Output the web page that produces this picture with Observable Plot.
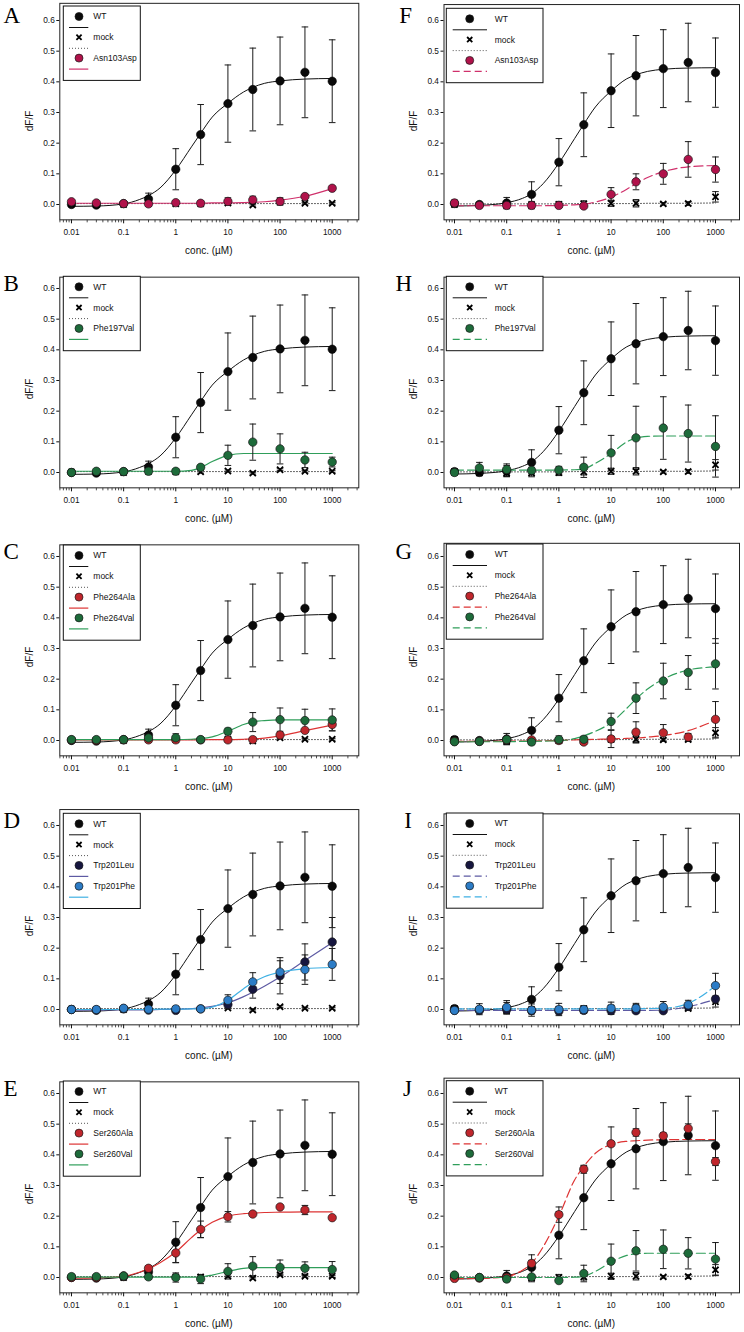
<!DOCTYPE html>
<html><head><meta charset="utf-8">
<script src="https://cdn.jsdelivr.net/npm/d3@7"></script>
<script src="https://cdn.jsdelivr.net/npm/@observablehq/plot@0.6"></script>
<style>
body{margin:0;background:#fff;}
#fig{position:relative;width:744px;height:1332px;overflow:hidden;background:#fff;}
.panel{position:absolute;width:372px;height:268px;}
</style></head><body><div id="fig"></div>
<script>
// ---------- data ----------
const conc = [0.01, 0.03, 0.1, 0.3, 1, 3, 10, 30, 100, 300, 1000];
const fitConc = [0.01, 0.03, 0.1, 0.2, 0.3, 0.5, 1, 2, 3, 5, 10, 20, 30, 50, 100, 300, 1000];
const yTicks = [0, 0.1, 0.2, 0.3, 0.4, 0.5, 0.6];
const xTicks = [0.01, 0.1, 1, 10, 100, 1000];
const xTickLabels = ["0.01", "0.1", "1", "10", "100", "1000"];
const panelLetters = ["A", "B", "C", "D", "E", "F", "H", "G", "I", "J"];
const xLabel = "conc. (\u00b5M)";
const yLabel = "dF/F";

// left column (A-E)
const wtL_mean = [0.0, -0.002, 0.003, 0.018, 0.115, 0.228, 0.329, 0.375, 0.403, 0.431, 0.402];
const wtL_err  = [0.004, 0.005, 0.006, 0.019, 0.067, 0.098, 0.126, 0.135, 0.143, 0.148, 0.135];
const wtL_fit  = [-0.006, -0.005, 0.002, 0.016, 0.029, 0.054, 0.113, 0.188, 0.232, 0.285, 0.330, 0.367, 0.382, 0.395, 0.403, 0.409, 0.411];
const mockL_mean = [0.002, 0.0, 0.0, 0.003, 0.002, 0.002, 0.005, -0.002, 0.009, 0.004, 0.004];
const mockL_err  = [0.003, 0.003, 0.004, 0.003, 0.004, 0.004, 0.003, 0.003, 0.003, 0.003, 0.003];
const mockL_fit  = [0.003, 0.003, 0.003, 0.003, 0.003, 0.003, 0.003, 0.003, 0.003, 0.003, 0.003, 0.003, 0.003, 0.003, 0.003, 0.003, 0.003];

// right column (F-J)
const wtR_mean = [0.003, 0.0, 0.005, 0.033, 0.138, 0.26, 0.371, 0.42, 0.443, 0.463, 0.43];
const wtR_err  = [0.01, 0.006, 0.018, 0.041, 0.077, 0.104, 0.12, 0.131, 0.127, 0.128, 0.113];
const wtR_fit  = [-0.005, -0.003, 0.006, 0.02, 0.035, 0.068, 0.135, 0.215, 0.262, 0.318, 0.37, 0.41, 0.423, 0.434, 0.441, 0.445, 0.446];
const mockR_mean = [0.0, -0.002, -0.002, -0.002, 0.0, 0.002, 0.004, 0.004, 0.002, 0.003, 0.025];
const mockR_err  = [0.005, 0.005, 0.012, 0.012, 0.01, 0.01, 0.01, 0.012, 0.004, 0.006, 0.017];
const mockR_fit  = [0.002, 0.002, 0.002, 0.002, 0.002, 0.002, 0.002, 0.003, 0.003, 0.003, 0.003, 0.003, 0.003, 0.004, 0.004, 0.004, 0.005];

// A: Asn103Asp (solid)
const asnA_mean = [0.009, 0.005, 0.003, 0.002, 0.006, 0.004, 0.01, 0.015, 0.01, 0.026, 0.053];
const asnA_err  = [0.004, 0.004, 0.004, 0.003, 0.006, 0.003, 0.012, 0.012, 0.012, 0.005, 0.004];
const asnA_fit  = [0.004, 0.004, 0.004, 0.004, 0.004, 0.004, 0.004, 0.004, 0.004, 0.005, 0.005, 0.006, 0.007, 0.009, 0.014, 0.027, 0.052];
// F: Asn103Asp (dashed)
const asnF_mean = [0.005, -0.003, -0.003, -0.003, -0.003, -0.005, 0.033, 0.074, 0.1, 0.147, 0.114];
const asnF_err  = [0.01, 0.005, 0.006, 0.01, 0.006, 0.005, 0.022, 0.026, 0.034, 0.058, 0.041];
const asnF_fit  = [-0.004, -0.004, -0.004, -0.004, -0.004, -0.004, -0.003, -0.001, 0.001, 0.008, 0.024, 0.05, 0.068, 0.088, 0.107, 0.123, 0.127];
// B: Phe197Val
const f197B_mean = [0.0, 0.004, 0.003, 0.004, 0.004, 0.017, 0.056, 0.099, 0.077, 0.041, 0.034];
const f197B_err  = [0.003, 0.003, 0.003, 0.003, 0.003, 0.006, 0.033, 0.059, 0.049, 0.025, 0.016];
const f197B_fit  = [0.004, 0.004, 0.004, 0.004, 0.004, 0.004, 0.004, 0.007, 0.016, 0.036, 0.056, 0.062, 0.062, 0.062, 0.062, 0.062, 0.062];
// H: Phe197Val
const f197H_mean = [0.0, 0.015, 0.01, 0.007, 0.008, 0.017, 0.064, 0.113, 0.145, 0.127, 0.085];
const f197H_err  = [0.004, 0.018, 0.018, 0.01, 0.012, 0.033, 0.057, 0.103, 0.102, 0.093, 0.1];
const f197H_fit  = [0.008, 0.008, 0.008, 0.008, 0.008, 0.008, 0.008, 0.009, 0.012, 0.03, 0.062, 0.1, 0.112, 0.118, 0.119, 0.119, 0.119];
// C: Phe264Ala, Phe264Val
const f264aC_mean = [0.002, 0.001, 0.002, 0.002, 0.002, 0.002, 0.002, 0.003, 0.018, 0.033, 0.052];
const f264aC_err  = [0.003, 0.003, 0.003, 0.003, 0.003, 0.003, 0.007, 0.005, 0.005, 0.004, 0.02];
const f264aC_fit  = [0.002, 0.002, 0.002, 0.002, 0.002, 0.002, 0.002, 0.002, 0.002, 0.003, 0.003, 0.004, 0.005, 0.008, 0.015, 0.032, 0.05];
const f264vC_mean = [0.003, 0.003, 0.003, 0.008, 0.009, 0.003, 0.03, 0.06, 0.068, 0.065, 0.067];
const f264vC_err  = [0.003, 0.003, 0.003, 0.005, 0.013, 0.003, 0.01, 0.031, 0.038, 0.037, 0.036];
const f264vC_fit  = [0.003, 0.003, 0.003, 0.003, 0.003, 0.003, 0.003, 0.004, 0.006, 0.012, 0.03, 0.052, 0.061, 0.065, 0.067, 0.067, 0.067];
// G: Phe264Ala, Phe264Val
const f264aG_mean = [-0.003, -0.003, 0.002, 0.002, 0.0, -0.005, 0.005, 0.027, 0.025, 0.011, 0.069];
const f264aG_err  = [0.004, 0.004, 0.004, 0.006, 0.005, 0.008, 0.028, 0.034, 0.027, 0.012, 0.058];
const f264aG_fit  = [-0.003, -0.003, -0.002, -0.002, -0.002, -0.001, 0.0, 0.002, 0.003, 0.004, 0.005, 0.007, 0.008, 0.011, 0.016, 0.032, 0.066];
const f264vG_mean = [-0.004, -0.003, 0.003, -0.005, 0.003, 0.004, 0.062, 0.138, 0.194, 0.222, 0.25];
const f264vG_err  = [0.004, 0.005, 0.008, 0.006, 0.012, 0.01, 0.027, 0.05, 0.058, 0.055, 0.082];
const f264vG_fit  = [-0.004, -0.004, -0.004, -0.003, -0.003, -0.002, -0.001, 0.006, 0.015, 0.03, 0.058, 0.105, 0.135, 0.168, 0.2, 0.23, 0.24];
// D: Trp201Leu, Trp201Phe
const w201lD_mean = [0.0, -0.002, 0.002, -0.002, -0.003, 0.002, 0.016, 0.066, 0.11, 0.155, 0.22];
const w201lD_err  = [0.004, 0.004, 0.004, 0.004, 0.004, 0.004, 0.01, 0.029, 0.059, 0.059, 0.08];
const w201lD_fit  = [-0.002, -0.002, -0.001, -0.001, -0.001, 0.0, 0.001, 0.003, 0.005, 0.01, 0.022, 0.042, 0.056, 0.076, 0.106, 0.16, 0.218];
const w201fD_mean = [0.0, 0.0, 0.004, 0.001, 0.002, 0.002, 0.03, 0.09, 0.122, 0.13, 0.147];
const w201fD_err  = [0.003, 0.003, 0.003, 0.003, 0.003, 0.003, 0.018, 0.03, 0.037, 0.048, 0.052];
const w201fD_fit  = [0.0, 0.0, 0.0, 0.0, 0.0, 0.001, 0.001, 0.002, 0.003, 0.008, 0.03, 0.068, 0.088, 0.107, 0.122, 0.133, 0.137];
// I: Trp201Leu, Trp201Phe
const w201lI_mean = [-0.003, -0.003, 0.0, -0.004, -0.005, -0.003, -0.004, -0.004, -0.004, 0.01, 0.034];
const w201lI_err  = [0.004, 0.005, 0.008, 0.01, 0.01, 0.01, 0.01, 0.006, 0.006, 0.012, 0.01];
const w201lI_fit  = [-0.003, -0.003, -0.003, -0.003, -0.003, -0.003, -0.003, -0.003, -0.003, -0.003, -0.003, -0.003, -0.003, -0.003, -0.002, 0.009, 0.033];
const w201fI_mean = [-0.003, 0.001, 0.007, -0.002, 0.0, 0.0, 0.004, 0.004, 0.008, 0.015, 0.078];
const w201fI_err  = [0.005, 0.018, 0.022, 0.02, 0.02, 0.012, 0.02, 0.016, 0.018, 0.015, 0.04];
const w201fI_fit  = [0.002, 0.002, 0.002, 0.002, 0.002, 0.002, 0.002, 0.002, 0.002, 0.002, 0.002, 0.002, 0.002, 0.003, 0.004, 0.02, 0.077];
// E: Ser260Ala, Ser260Val
const s260aE_mean = [0.0, 0.0, 0.005, 0.03, 0.08, 0.157, 0.198, 0.207, 0.23, 0.22, 0.195];
const s260aE_err  = [0.003, 0.003, 0.003, 0.008, 0.031, 0.027, 0.017, 0.004, 0.005, 0.015, 0.004];
const s260aE_fit  = [-0.002, -0.001, 0.004, 0.017, 0.028, 0.048, 0.083, 0.13, 0.155, 0.18, 0.2, 0.208, 0.21, 0.212, 0.213, 0.214, 0.214];
const s260vE_mean = [0.003, 0.003, 0.005, 0.002, 0.0, -0.005, 0.02, 0.037, 0.033, 0.03, 0.026];
const s260vE_err  = [0.003, 0.003, 0.005, 0.003, 0.015, 0.015, 0.025, 0.031, 0.024, 0.021, 0.026];
const s260vE_fit  = [0.001, 0.001, 0.001, 0.001, 0.001, 0.001, 0.001, 0.001, 0.002, 0.008, 0.02, 0.03, 0.032, 0.032, 0.032, 0.032, 0.032];
// J: Ser260Ala, Ser260Val
const s260aJ_mean = [-0.003, -0.002, 0.0, 0.046, 0.205, 0.353, 0.436, 0.473, 0.462, 0.486, 0.378];
const s260aJ_err  = [0.005, 0.004, 0.005, 0.01, 0.025, 0.013, 0.008, 0.012, 0.01, 0.015, 0.013];
const s260aJ_fit  = [-0.004, -0.003, 0.003, 0.024, 0.046, 0.1, 0.2, 0.318, 0.362, 0.405, 0.434, 0.444, 0.446, 0.448, 0.449, 0.45, 0.45];
const s260vJ_mean = [0.008, 0.0, -0.005, 0.002, -0.01, 0.013, 0.053, 0.087, 0.092, 0.079, 0.06];
const s260vJ_err  = [0.004, 0.004, 0.005, 0.005, 0.006, 0.027, 0.056, 0.066, 0.063, 0.051, 0.054];
const s260vJ_fit  = [0.0, 0.0, 0.0, 0.0, 0.0, 0.0, 0.0, 0.001, 0.004, 0.02, 0.05, 0.072, 0.077, 0.079, 0.079, 0.079, 0.079];

// colours: [marker fill, fit line]
const seriesColors = {
  "Asn103Asp": ["#b0124a", "#d0306b"],
  "Phe197Val": ["#1d6b3a", "#2f9e5a"],
  "Phe264Ala": ["#c0262c", "#dd3333"],
  "Phe264Val": ["#1d6b3a", "#2f9e5a"],
  "Trp201Leu": ["#16163f", "#5d5aa3"],
  "Trp201Phe": ["#2c7cc6", "#3fb0e3"],
  "Ser260Ala": ["#c0262c", "#dd3333"],
  "Ser260Val": ["#1d6b3a", "#2f9e5a"]
};

// ---------- panel table ----------
const panels = [
  {letter: panelLetters[0], col: 0, row: 0, yTop: 0.656, legTop: 6,   muts: [["Asn103Asp", asnA_mean, asnA_err, asnA_fit]]},
  {letter: panelLetters[1], col: 0, row: 1, yTop: 0.637, legTop: 8.3, muts: [["Phe197Val", f197B_mean, f197B_err, f197B_fit]]},
  {letter: panelLetters[2], col: 0, row: 2, yTop: 0.638, legTop: 9,   muts: [["Phe264Ala", f264aC_mean, f264aC_err, f264aC_fit], ["Phe264Val", f264vC_mean, f264vC_err, f264vC_fit]]},
  {letter: panelLetters[3], col: 0, row: 3, yTop: 0.652, legTop: 8.3, muts: [["Trp201Leu", w201lD_mean, w201lD_err, w201lD_fit], ["Trp201Phe", w201fD_mean, w201fD_err, w201fD_fit]]},
  {letter: panelLetters[4], col: 0, row: 4, yTop: 0.638, legTop: 8,   muts: [["Ser260Ala", s260aE_mean, s260aE_err, s260aE_fit], ["Ser260Val", s260vE_mean, s260vE_err, s260vE_fit]]},
  {letter: panelLetters[5], col: 1, row: 0, yTop: 0.652, legTop: 8.3, muts: [["Asn103Asp", asnF_mean, asnF_err, asnF_fit]]},
  {letter: panelLetters[6], col: 1, row: 1, yTop: 0.637, legTop: 8.3, muts: [["Phe197Val", f197H_mean, f197H_err, f197H_fit]]},
  {letter: panelLetters[7], col: 1, row: 2, yTop: 0.643, legTop: 8,   muts: [["Phe264Ala", f264aG_mean, f264aG_err, f264aG_fit], ["Phe264Val", f264vG_mean, f264vG_err, f264vG_fit]]},
  {letter: panelLetters[8], col: 1, row: 3, yTop: 0.638, legTop: 8,   muts: [["Trp201Leu", w201lI_mean, w201lI_err, w201lI_fit], ["Trp201Phe", w201fI_mean, w201fI_err, w201fI_fit]]},
  {letter: panelLetters[9], col: 1, row: 4, yTop: 0.65,  legTop: 7.7, muts: [["Ser260Ala", s260aJ_mean, s260aJ_err, s260aJ_fit], ["Ser260Val", s260vJ_mean, s260vJ_err, s260vJ_fit]]}
];

// ---------- layout ----------
const rowTops = [0, 267.7, 536, 805, 1073];
const PX_PER_UNIT = 306.67, ZERO_Y = 204, W = 372, H = 268, Y_BOTTOM = -0.05;
const colGeom = [
  {mL: 59.3, mR: 13.7, xDom: [Math.pow(10, -2.224), Math.pow(10, 3.51)],
   boxX: 63.3, boxW: 77, mkX: 79, lnX1: 69, lnX2: 88.3, txX: 93.3, letterX: 3.5, letterAnchor: "start", dashed: false},
  {mL: 71.5, mR: 5, xDom: [Math.pow(10, -2.201), Math.pow(10, 3.46)],
   boxX: 74.3, boxW: 96.7, mkX: 97.7, lnX1: 80.7, lnX2: 115, txX: 122.7, letterX: 40, letterAnchor: "end", dashed: true}
];
const FONT = "'Liberation Sans', Arial, Helvetica, sans-serif";
const ERR = "#1a1a1a";
const capSym = {draw(ctx) { ctx.moveTo(-3.3, 0); ctx.lineTo(3.3, 0); }};
const minorSym = {draw(ctx) { ctx.moveTo(0, 0); ctx.lineTo(0, 2.5); }};

function rows(xs, ys, es) {
  return xs.map((x, i) => ({x, y: ys[i], lo: es ? ys[i] - es[i] : null, hi: es ? ys[i] + es[i] : null}));
}

const fig = document.getElementById("fig");

for (const p of panels) {
  const g = colGeom[p.col];
  const side = p.col === 0 ? {wm: wtL_mean, we: wtL_err, wf: wtL_fit, mm: mockL_mean, me: mockL_err, mf: mockL_fit}
                           : {wm: wtR_mean, we: wtR_err, wf: wtR_fit, mm: mockR_mean, me: mockR_err, mf: mockR_fit};
  const mT = ZERO_Y - p.yTop * PX_PER_UNIT;
  const mB = H - (ZERO_Y - Y_BOTTOM * PX_PER_UNIT);
  const minor = [];
  for (const d of [0.001, 0.01, 0.1, 1, 10, 100, 1000]) for (let k = 2; k <= 9; k++) {
    const v = d * k; if (v >= g.xDom[0] && v <= g.xDom[1]) minor.push(v);
  }
  const wtRows = rows(conc, side.wm, side.we);
  const mockRows = rows(conc, side.mm, side.me);
  const dash = g.dashed ? "9,4" : null;

  const marks = [
    Plot.line(rows(fitConc, side.mf), {x: "x", y: "y", stroke: "#555", strokeWidth: 1, strokeDasharray: "1,2"}),
    Plot.line(rows(fitConc, side.wf), {x: "x", y: "y", stroke: "#111", strokeWidth: 1, curve: "monotone-x"})
  ];
  for (const [name, m, e, f] of p.muts) {
    marks.push(Plot.line(rows(fitConc, f), {x: "x", y: "y", stroke: seriesColors[name][1], strokeWidth: 1.2, strokeDasharray: dash, curve: "monotone-x"}));
  }
  const allErr = [wtRows, mockRows, ...p.muts.map(([n, m, e]) => rows(conc, m, e))];
  for (const r of allErr) {
    marks.push(Plot.ruleX(r, {x: "x", y1: "lo", y2: "hi", stroke: ERR, strokeWidth: 1}));
    marks.push(Plot.dot(r, {x: "x", y: "hi", symbol: capSym, stroke: ERR, fill: "none", strokeWidth: 1}));
    marks.push(Plot.dot(r, {x: "x", y: "lo", symbol: capSym, stroke: ERR, fill: "none", strokeWidth: 1}));
  }
  marks.push(Plot.dot(wtRows, {x: "x", y: "y", r: 4.2, fill: "#0a0a0a", stroke: "#000", strokeWidth: 0.6}));
  marks.push(Plot.dot(mockRows, {x: "x", y: "y", r: 2.9, symbol: "times", stroke: "#000", strokeWidth: 1.8}));
  for (const [name, m, e] of p.muts) {
    marks.push(Plot.dot(rows(conc, m), {x: "x", y: "y", r: 4.2, fill: seriesColors[name][0], stroke: "#1a1a1a", strokeWidth: 0.7}));
  }
  marks.push(Plot.dot(minor, {x: d => d, frameAnchor: "bottom", symbol: minorSym, stroke: "#222", fill: "none", strokeWidth: 0.8}));
  marks.push(Plot.frame({stroke: "#222", strokeWidth: 1}));

  const svg = Plot.plot({
    width: W, height: H,
    marginLeft: g.mL, marginRight: g.mR, marginTop: mT, marginBottom: mB,
    style: {fontFamily: FONT, fontSize: "8.3px", background: "transparent", overflow: "visible", color: "#111"},
    x: {type: "log", domain: g.xDom, ticks: xTicks, tickFormat: d => xTickLabels[xTicks.indexOf(d)], tickSize: 4, tickPadding: 5.5, label: null},
    y: {domain: [Y_BOTTOM, p.yTop], ticks: yTicks, tickFormat: ".1f", tickSize: 3, tickPadding: 2, label: null},
    marks
  });

  // overlays: legend, axis titles, panel letter
  const s = d3.select(svg);
  const entries = [{name: "WT", kind: "wt"}, {name: "mock", kind: "mock"}, ...p.muts.map(m => ({name: m[0], kind: "mut"}))];
  const lg = s.append("g").attr("text-anchor", "start");
  lg.append("rect").attr("x", g.boxX).attr("y", p.legTop).attr("width", g.boxW)
    .attr("height", entries.length * 20.8 + 12).attr("fill", "white").attr("stroke", "#111").attr("stroke-width", 1);
  entries.forEach((e, i) => {
    const ym = p.legTop + 10.5 + i * 20.8, yl = ym + 11;
    if (e.kind === "mock") {
      lg.append("path").attr("d", `M${g.mkX - 2.6},${ym - 2.6}L${g.mkX + 2.6},${ym + 2.6}M${g.mkX - 2.6},${ym + 2.6}L${g.mkX + 2.6},${ym - 2.6}`)
        .attr("stroke", "#000").attr("stroke-width", 1.8);
      lg.append("line").attr("x1", g.lnX1).attr("x2", g.lnX2).attr("y1", yl).attr("y2", yl)
        .attr("stroke", "#555").attr("stroke-dasharray", "1,2");
    } else {
      const fill = e.kind === "wt" ? "#0a0a0a" : seriesColors[e.name][0];
      const ln = e.kind === "wt" ? "#111" : seriesColors[e.name][1];
      lg.append("circle").attr("cx", g.mkX).attr("cy", ym).attr("r", 4).attr("fill", fill).attr("stroke", "#1a1a1a").attr("stroke-width", 0.7);
      const l = lg.append("line").attr("x1", g.lnX1).attr("x2", g.lnX2).attr("y1", yl).attr("y2", yl)
        .attr("stroke", ln).attr("stroke-width", e.kind === "wt" ? 1 : 1.2);
      if (e.kind === "mut" && g.dashed) l.attr("stroke-dasharray", "7,4");
    }
    lg.append("text").attr("x", g.txX).attr("y", ym).attr("dy", "0.35em").attr("font-size", "8.5px")
      .attr("text-anchor", "start").attr("font-family", FONT).attr("fill", "#111").text(e.name);
  });
  const fl = g.mL, fr = W - g.mR;
  s.append("text").attr("transform", `translate(${fl - 30},121) rotate(-90)`).attr("text-anchor", "middle")
    .attr("dy", "0.35em").attr("font-size", "10px").attr("font-family", FONT).attr("fill", "#111").text(yLabel);
  s.append("text").attr("x", (fl + fr) / 2).attr("y", 253.5).attr("text-anchor", "middle")
    .attr("font-size", "10px").attr("font-family", FONT).attr("fill", "#111").text(xLabel);
  s.append("text").attr("x", g.letterX).attr("y", 23).attr("text-anchor", g.letterAnchor)
    .attr("font-size", "23px").attr("font-family", "'Liberation Serif', 'Times New Roman', serif").attr("fill", "#000").text(p.letter);

  const div = document.createElement("div");
  div.className = "panel";
  div.style.left = (p.col * 372) + "px";
  div.style.top = rowTops[p.row] + "px";
  div.appendChild(svg);
  fig.appendChild(div);
}
</script>
</body></html>
